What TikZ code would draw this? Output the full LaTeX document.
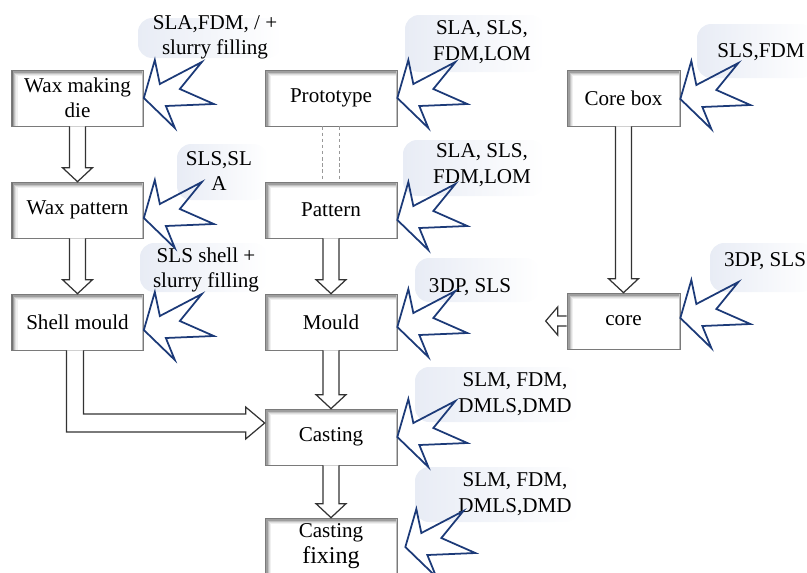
\documentclass[tikz,border=0pt]{standalone}
\usepackage{fontspec}
\setmainfont{Liberation Serif}
\usepackage{tikz}
\usetikzlibrary{calc}
\definecolor{cBurst}{HTML}{1C3A78}
\definecolor{cLabel}{HTML}{E8ECF5}
\definecolor{cFrame}{HTML}{7A7A7A}
\definecolor{cEdge}{HTML}{333333}

\begin{document}
\begin{tikzpicture}[x=0.02cm, y=-0.02cm,
  every node/.style={font=\fontsize{12}{14.4}\selectfont},
  box/.style={draw=cFrame, fill=white, align=center, minimum width=2.64cm, minimum height=1.12cm, inner sep=2pt,
    path picture={
      \foreach \k/\c in {0.4/55,1.1/38,1.8/24,2.5/13,3.2/6}
        \draw[black!\c, line width=0.75pt] ([xshift=\k pt]path picture bounding box.south west)
          -- ([xshift=\k pt, yshift=-\k pt]path picture bounding box.north west)
          -- ([yshift=-\k pt]path picture bounding box.north east);
      \draw[black!25, line width=0.8pt] ([xshift=-0.4pt]path picture bounding box.north east) -- ([xshift=-0.4pt]path picture bounding box.south east);
    }},
  nbox/.style={box, minimum width=2.26cm},
  lab/.style={align=center, inner sep=0pt},
  labbg/.style={left color=cLabel, right color=white, rounded corners=8pt},
  hollow/.style={draw=cEdge, fill=white, line width=0.7pt, line join=miter},
  burst/.style={draw=cBurst, line width=1pt, line join=miter},
  dashline/.style={draw=black!40, dash pattern=on 2pt off 1.5pt, line width=0.4pt}
]
\useasboundingbox (0,0) rectangle (807,572);

% label backgrounds
\shade[labbg] (138,18) rectangle (282,58);
\shade[labbg] (405,15) rectangle (545,72);
\shade[labbg] (697,24) rectangle (815,78);
\shade[labbg] (177,144) rectangle (268,200);
\shade[labbg] (140,243) rectangle (268,292);
\shade[labbg] (403,140) rectangle (545,196);
\shade[labbg] (415,258) rectangle (540,302);
\shade[labbg] (710,243) rectangle (815,292);
\shade[labbg] (415,367) rectangle (580,422);
\shade[labbg] (415,467) rectangle (580,522);

% process boxes
\node[box] (wmd) at (77.5,98) {Wax making\\die};
\node[box] (proto) at (331,98) {Prototype};
\node[nbox] (corebox) at (623.5,98) {Core box};
\node[box] (waxpat) at (77.5,210) {Wax pattern};
\node[box] (pattern) at (331,210) {Pattern};
\node[box] (shell) at (77.5,322) {Shell mould};
\node[box] (mould) at (331,322) {Mould};
\node[nbox] (core) at (623.5,321) {core};
\node[box] (casting) at (331,437) {Casting};
\node[box] (fixing) at (331,546) {Casting\\{\fontsize{13.7}{16}\selectfont fixing}};

% process labels
\node[lab] (lwmd) at (215,37) {SLA,FDM, / +\\slurry filling};
\node[lab] (lproto) at (482,42) {SLA, SLS,\\FDM,LOM};
\node[lab] (lcorebox) at (761,52) {SLS,FDM};
\node[lab] (lwaxpat) at (219,171) {SLS,SL\\A};
\node[lab] (lshell) at (206,270) {SLS shell +\\slurry filling};
\node[lab] (lpattern) at (482,165) {SLA, SLS,\\FDM,LOM};
\node[lab] (lmould) at (470,287) {3DP, SLS};
\node[lab] (lcore) at (765,261) {3DP, SLS};
\node[lab] (lcasting) at (515,394) {SLM, FDM,\\DMLS,DMD};
\node[lab] (lfixing) at (515,494) {SLM, FDM,\\DMLS,DMD};

% hollow arrows
\foreach \a/\b in {wmd/waxpat, waxpat/shell, pattern/mould, mould/casting, casting/fixing, corebox/core}
  \draw[hollow] ($(\a.south)+(-8,0)$) -- ($(\b.north)+(-8,-14)$) -- ++(-7,0) -- (\b.north)
    -- ($(\b.north)+(15,-14)$) -- ++(-7,0) -- ($(\a.south)+(8,0)$);
\draw[dashline] ($(proto.south)+(-9,0)$) -- ($(pattern.north)+(-9,0)$);
\draw[dashline] ($(proto.south)+(8,0)$) -- ($(pattern.north)+(8,0)$);
\coordinate (tipc) at ($(casting.west)+(0,-14)$);
\draw[hollow] ($(shell.south)+(-11,0)$) |- ($(tipc)+(-19,9)$) -- ++(0,7) -- (tipc)
  -- ++(-19,-16) -- ++(0,7) -| ($(shell.south)+(6,0)$);
\draw[hollow] ($(core.west)+(0,-5)$) -- ++(-9,0) -- ++(0,-9) -- ++(-12,14) -- ++(12,14) -- ++(0,-9) -- ++(9,0);

% bursts
\foreach \n/\dx/\dy in {wmd/0/0, proto/0/0, corebox/0/1, waxpat/0/8, pattern/0/10, shell/0/8, mould/0/5, core/0/-3, casting/0/0, fixing/8/1}
  \draw[burst, shift={($(\n.east)+(\dx,\dy)$)}] (0,0) -- (11,-38) -- (16,-14) -- (58,-36) -- (36,-9)
    -- (70,6) -- (22,8) -- (31,30) -- cycle;
\end{tikzpicture}
\end{document}
